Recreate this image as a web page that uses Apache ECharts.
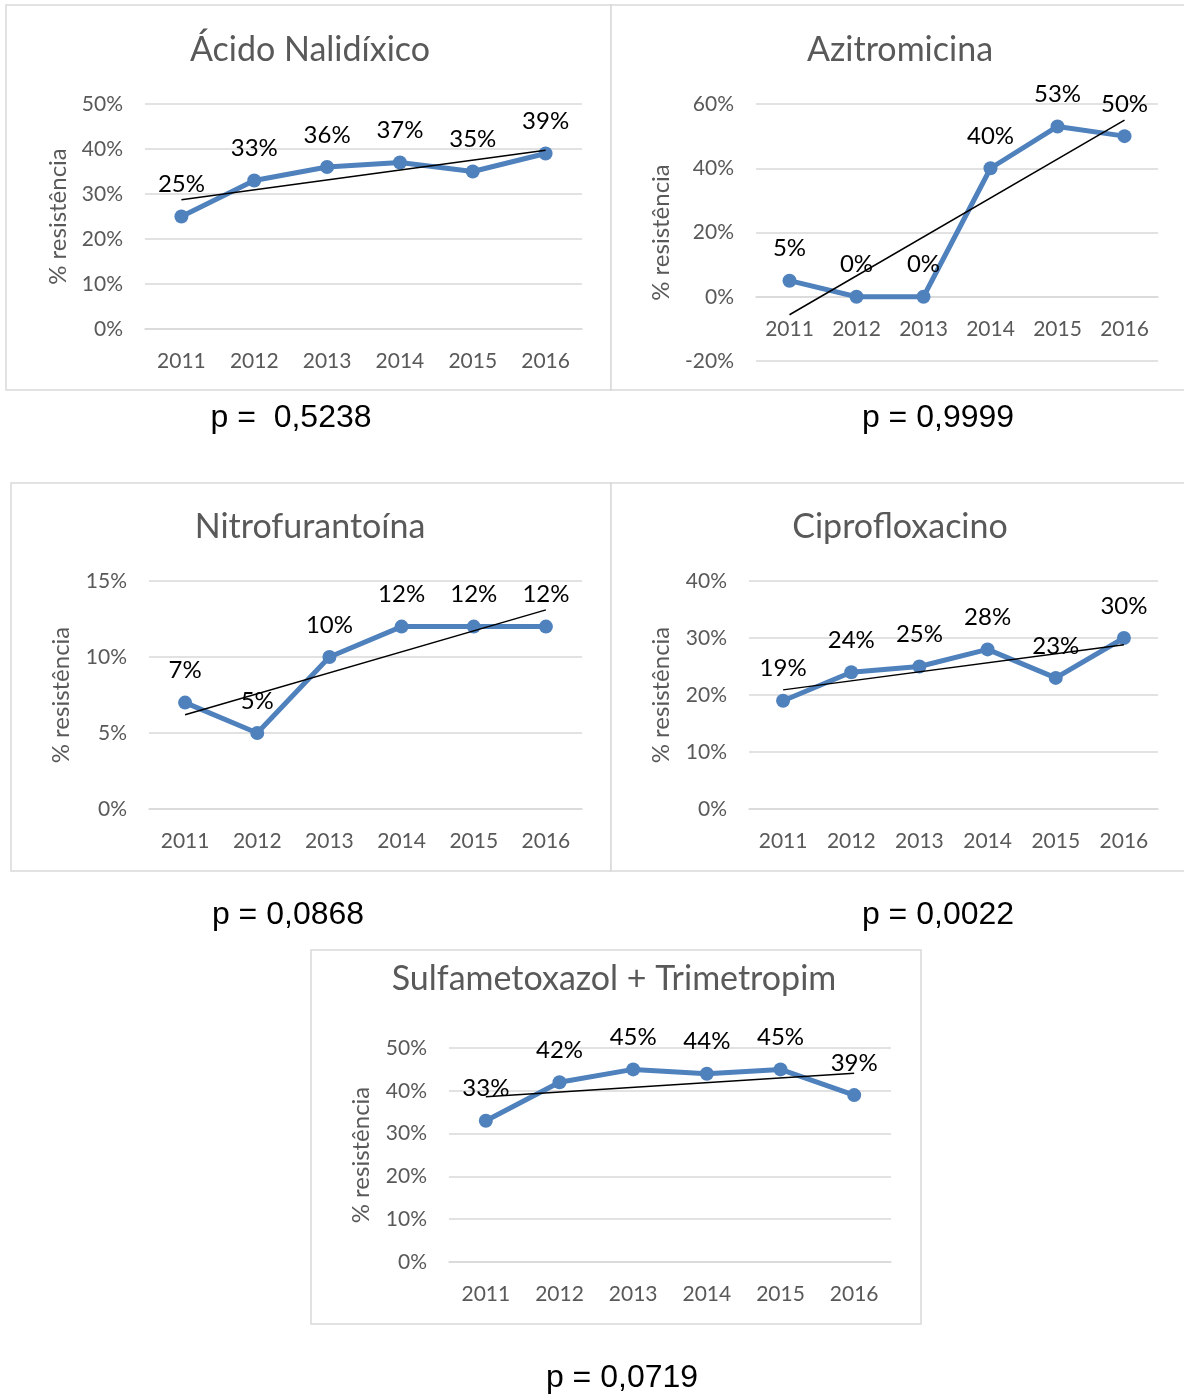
<!DOCTYPE html>
<html lang="pt">
<head>
<meta charset="UTF-8">
<title>Resistência antimicrobiana</title>
<script src="https://cdn.jsdelivr.net/npm/echarts@6/dist/echarts.min.js"></script>
<style>html,body{margin:0;padding:0;background:#fff;}</style>
</head>
<body>
<div id="main" style="width:1184px;height:1396px;"></div>
<script>
var years = ['2011', '2012', '2013', '2014', '2015', '2016'];

var nalidixico      = [25, 33, 36, 37, 35, 39];
var azitromicina    = [5, 0, 0, 40, 53, 50];
var nitrofurantoina = [7, 5, 10, 12, 12, 12];
var ciprofloxacino  = [19, 24, 25, 28, 23, 30];
var sulfaTrimet     = [33, 42, 45, 44, 45, 39];

// trend line values at 2011 and 2016
var trendNalidixico      = [28.7, 39.7];
var trendAzitromicina    = [-5.6, 55.0];
var trendNitrofurantoina = [6.2, 13.1];
var trendCiprofloxacino  = [20.9, 28.8];
var trendSulfaTrimet     = [38.6, 44.1];

// y ticks: min, max, step
var ticksNalidixico      = [0, 50, 10];
var ticksAzitromicina    = [-20, 60, 20];
var ticksNitrofurantoina = [0, 15, 5];
var ticksCiprofloxacino  = [0, 40, 10];
var ticksSulfaTrimet     = [0, 50, 10];

var titles = ['Ácido Nalidíxico', 'Azitromicina', 'Nitrofurantoína', 'Ciprofloxacino', 'Sulfametoxazol + Trimetropim'];
var pValues = ['p =  0,5238', 'p = 0,9999', 'p = 0,0868', 'p = 0,0022', 'p = 0,0719'];
var yName = '% resistência';

var values = [nalidixico, azitromicina, nitrofurantoina, ciprofloxacino, sulfaTrimet];
var trends = [trendNalidixico, trendAzitromicina, trendNitrofurantoina, trendCiprofloxacino, trendSulfaTrimet];
var ticks = [ticksNalidixico, ticksAzitromicina, ticksNitrofurantoina, ticksCiprofloxacino, ticksSulfaTrimet];

// layout of each panel (grid box, frame, title, p text, name gap)
// xOff lifts the category labels up to the 0% line (azitromicina has negatives)
var panels = [
    {grid: [145, 104, 437, 225], box: [6, 5, 605, 385],   title: [310, 50],  p: [291, 418],  gap: 75, xOff: 0},
    {grid: [756, 104, 402, 257], box: [611, 5, 590, 385], title: [900, 50],  p: [938, 418],  gap: 83, xOff: -64},
    {grid: [149, 581, 433, 228], box: [11, 483, 600, 388], title: [310, 527], p: [288, 915], gap: 76, xOff: 0},
    {grid: [749, 581, 409, 228], box: [611, 483, 590, 388], title: [900, 527], p: [938, 915], gap: 76, xOff: 0},
    {grid: [449, 1048, 442, 214], box: [311, 950, 610, 374], title: [614, 979], p: [622, 1378], gap: 76, xOff: 0}
];

var font = 'Lato';
var grey = '#595959';
var blue = '#4f81bd';

var grids = [], xAxes = [], yAxes = [], series = [], graphics = [];

panels.forEach(function (pn, i) {
    graphics.push({
        type: 'rect', z: -1,
        shape: {x: pn.box[0], y: pn.box[1], width: pn.box[2], height: pn.box[3]},
        style: {fill: '#fff', stroke: '#d9d9d9', lineWidth: 1.5}
    });
    graphics.push({
        type: 'text', x: pn.title[0], y: pn.title[1],
        style: {text: titles[i], font: '34px ' + font, fill: grey, textAlign: 'center', textVerticalAlign: 'middle'}
    });
    graphics.push({
        type: 'text', x: pn.p[0], y: pn.p[1],
        style: {text: pValues[i], font: '32px "Liberation Sans", Arial', fill: '#000', textAlign: 'center', textVerticalAlign: 'middle'}
    });

    grids.push({left: pn.grid[0], top: pn.grid[1], width: pn.grid[2], height: pn.grid[3], containLabel: false});
    xAxes.push({
        type: 'category', gridIndex: i, data: years, boundaryGap: true,
        offset: pn.xOff,
        axisLine: {show: true, onZero: false, lineStyle: {color: '#d9d9d9', width: 1.5}},
        axisTick: {show: false},
        axisLabel: {color: grey, fontFamily: font, fontSize: 21, margin: 22}
    });
    yAxes.push({
        type: 'value', gridIndex: i,
        min: ticks[i][0], max: ticks[i][1], interval: ticks[i][2],
        name: yName, nameLocation: 'middle', nameGap: pn.gap,
        nameTextStyle: {color: grey, fontFamily: font, fontSize: 24},
        axisLine: {show: false}, axisTick: {show: false},
        axisLabel: {color: grey, fontFamily: font, fontSize: 21, margin: 22, formatter: '{value}%'},
        splitLine: {lineStyle: {color: '#d9d9d9', width: 1.5}}
    });
    series.push({
        type: 'line', xAxisIndex: i, yAxisIndex: i, data: values[i],
        symbol: 'circle', symbolSize: 14,
        lineStyle: {color: blue, width: 5},
        itemStyle: {color: blue},
        label: {show: true, position: 'top', distance: 13, color: '#000', fontFamily: font, fontSize: 24, formatter: '{c}%'},
        z: 2
    });
    series.push({
        type: 'line', xAxisIndex: i, yAxisIndex: i,
        data: [[years[0], trends[i][0]], [years[5], trends[i][1]]],
        symbol: 'none', silent: true,
        lineStyle: {color: '#000', width: 1.5},
        z: 3
    });
});

var chart = echarts.init(document.getElementById('main'));
chart.setOption({
    animation: false,
    grid: grids,
    xAxis: xAxes,
    yAxis: yAxes,
    series: series,
    graphic: graphics
});
</script>
</body>
</html>
